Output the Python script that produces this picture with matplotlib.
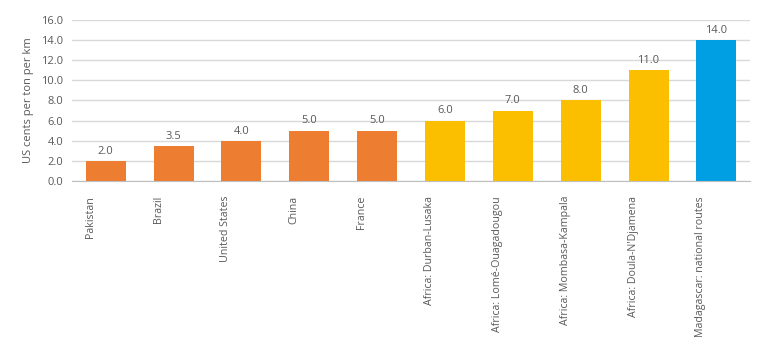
import matplotlib.pyplot as plt
import matplotlib.transforms as mtransforms
import numpy as np

plt.rcParams['font.family'] = ['Open Sans', 'DejaVu Sans']

categories = ["Pakistan", "Brazil", "United States", "China", "France",
              "Africa: Durban-Lusaka", "Africa: Lomé-Ouagadougou",
              "Africa: Mombasa-Kampala", "Africa: Doula-N'Djamena",
              "Madagascar: national routes"]
values = [2.0, 3.5, 4.0, 5.0, 5.0, 6.0, 7.0, 8.0, 11.0, 14.0]
groups = ["world"] * 5 + ["africa"] * 4 + ["madagascar"]

palette = {"world": "#ED7D31", "africa": "#FBBF00", "madagascar": "#009FE3"}
text_color = "#595959"

fig = plt.figure(figsize=(7.8, 3.5), dpi=100)
ax = fig.add_axes([0.092, 0.483, 0.87, 0.46])

x = np.arange(len(categories))
bars = ax.bar(x, values, width=0.59, color=[palette[g] for g in groups], zorder=3)

for b, v in zip(bars, values):
    ax.annotate(f"{v:.1f}", (b.get_x() + b.get_width() / 2, v),
                xytext=(0, 3), textcoords="offset points",
                ha="center", va="bottom", fontsize=8, color=text_color)

ax.set_xlim(-0.5, len(categories) - 0.5)
ax.set_ylim(0, 16)
ax.set_yticks(np.arange(0, 16.1, 2))
ax.set_yticklabels([f"{t:.1f}" for t in np.arange(0, 16.1, 2)])
ax.set_xticks(x)
ax.set_xticklabels([])

# category labels, shifted left of the bar like excel does
offset = mtransforms.ScaledTranslation(-0.155, -0.15, fig.dpi_scale_trans)
trans = ax.get_xaxis_transform() + offset
for xi, name in zip(x, categories):
    ax.text(xi, 0, name, rotation=90, ha="center", va="top",
            transform=trans, fontsize=7.7, color=text_color)

ax.tick_params(axis="both", length=0, labelsize=8, colors=text_color)
ax.tick_params(axis="y", pad=6)
ax.set_ylabel("US cents per ton per km", fontsize=8, color=text_color, labelpad=5)

ax.grid(axis="y", color="#D9D9D9", linewidth=1, zorder=0)
for side in ["top", "right", "left"]:
    ax.spines[side].set_visible(False)
ax.spines["bottom"].set_color("#BFBFBF")
ax.spines["bottom"].set_zorder(4)

fig.savefig("out.png", dpi=100)
